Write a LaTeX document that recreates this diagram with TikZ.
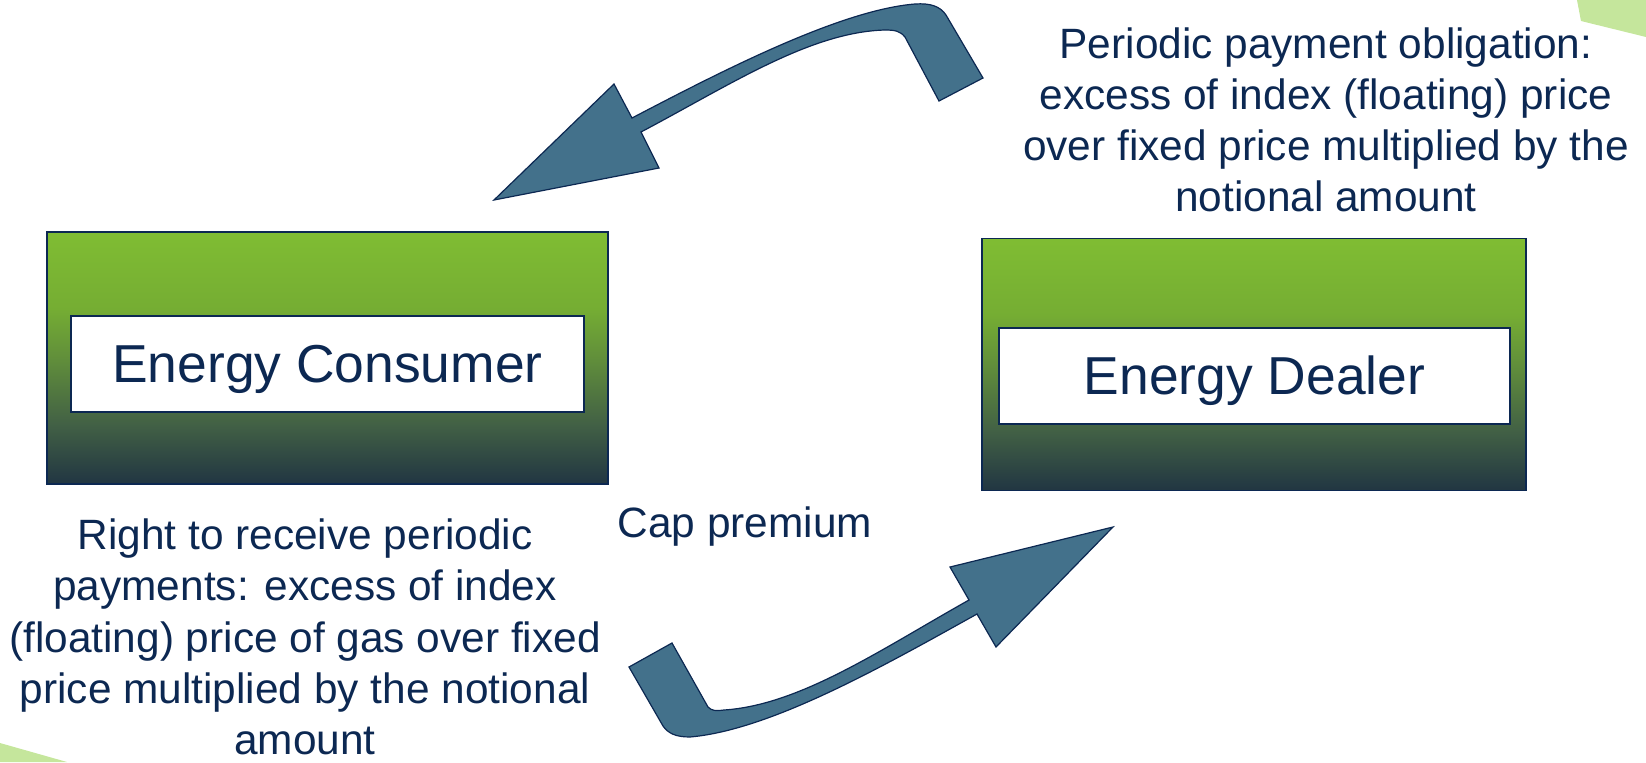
\documentclass[tikz,border=0pt]{standalone}
\usepackage{fontspec}
\setmainfont{Liberation Sans}
\usetikzlibrary{positioning}
\definecolor{navy}{RGB}{12,40,82}
\definecolor{arrowblue}{RGB}{67,113,139}
\definecolor{cornergreen}{RGB}{197,230,156}
\pgfdeclareverticalshading{greenfade}{100bp}{rgb(0bp)=(0.13,0.21,0.26); rgb(25bp)=(0.13,0.21,0.26); rgb(37bp)=(0.26,0.38,0.27); rgb(50bp)=(0.38,0.56,0.23); rgb(60bp)=(0.46,0.68,0.2); rgb(75bp)=(0.5,0.74,0.2); rgb(100bp)=(0.5,0.74,0.2)}
\tikzset{
    party/.style={draw=navy, line width=0.8pt, shade, shading=greenfade, minimum height=126pt}, % the green boxes
    name box/.style={draw=navy, line width=0.8pt, fill=white, minimum height=48pt, text depth=0.05em, text=navy, font=\fontsize{26.7}{32}\selectfont}, % white label inside
    block arrow/.style={draw=navy, line width=0.6pt, fill=arrowblue, line join=miter}, % the bent arrows
    note/.style={text=navy, align=center, inner sep=0pt, font=\fontsize{21.2}{25.6}\selectfont}, % the texts
}
\begin{document}
\begin{tikzpicture}[x=0.5pt, y=-0.5pt]
\useasboundingbox (0,0) rectangle (1646,762);
% corners
\fill[cornergreen] (1577,0) -- (1581,21) -- (1646,37) -- (1646,0) -- cycle;
\fill[cornergreen] (0,743) -- (67,762) -- (0,762) -- cycle;
% parties
\node[party, minimum width=280.5pt] (consumerbox) at (327.5,358) {};
\node[name box, minimum width=256.5pt] (consumer) at (327.5,364) {Energy Consumer};
\node[party, minimum width=272pt] (dealerbox) at (1254,364.5) {};
\node[name box, minimum width=255.5pt] (dealer) at (1254.5,376) {Energy Dealer};
% arrows
\draw[block arrow] (494,200) -- (614,84) -- (632,118)
  .. controls (720,72) and (840,10) .. (915,4)
  .. controls (930,3) and (940,6) .. (946,15) -- (983,78) -- (939,101) -- (905,37)
  .. controls (900,31) and (895,30) .. (885,30)
  .. controls (810,32) and (730,85) .. (641,132) -- (659,168) -- cycle;
\draw[block arrow] (1113,527) -- (996,647) -- (977,614)
  .. controls (880,668) and (770,730) .. (690,737)
  .. controls (675,737) and (668,733) .. (663,726) -- (629,667) -- (672,643) -- (708,707)
  .. controls (712,711) and (716,711) .. (724,710)
  .. controls (800,705) and (880,650) .. (969,600) -- (950,567) -- cycle;
% texts
\node[note] (obligation) at (1326,120) {Periodic payment obligation:\\excess of index (floating) price\\over fixed price multiplied by the\\notional amount};
\node[note] (right) at (305,637) {Right to receive periodic\\payments: excess of index\\(floating) price of gas over fixed\\price multiplied by the notional\\amount};
\node[note] (premium) at (745,527) {Cap premium};
\end{tikzpicture}
\end{document}
